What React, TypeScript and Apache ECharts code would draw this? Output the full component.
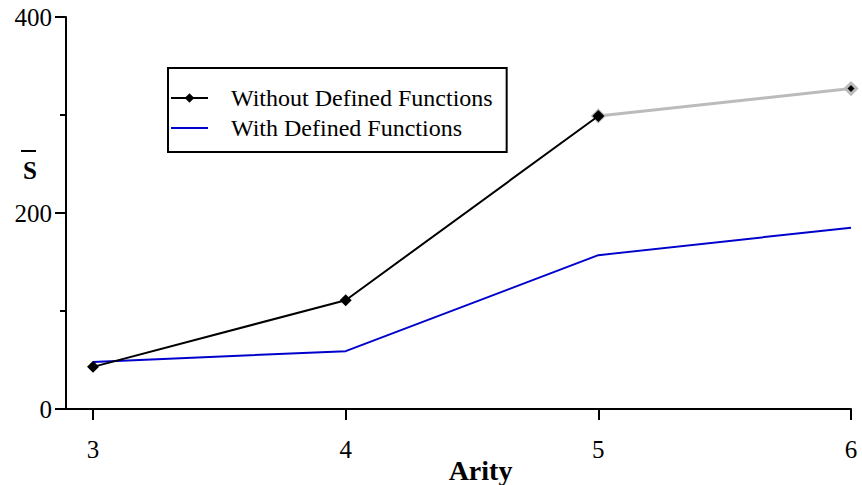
import React, { useEffect, useRef } from "react";
import * as echarts from "echarts";

const arity = [3, 4, 5, 6];
const withoutDefined = [43, 111, 299];
const withoutDefinedTail = [299, 327];
const withDefined = [48, 59, 157, 185];
const xTicks = [3, 4, 5, 6];
const seriesNames = ["Without Defined Functions", "With Defined Functions"];

const FONT = "Liberation Serif";

export default function App() {
  const ref = useRef<HTMLDivElement>(null);
  useEffect(() => {
    if (!ref.current) return;
    const chart = echarts.init(ref.current, null, { renderer: "svg" });
    chart.setOption({
      animation: false,
      grid: { left: 66, right: 11, top: 17, bottom: 76, containLabel: false, outerBoundsMode: "none" },
      legend: {
        left: 168,
        top: 68,
        orient: "vertical",
        data: [
          { name: seriesNames[0] },
          { name: seriesNames[1], itemStyle: { opacity: 0 } },
        ],
        backgroundColor: "#fff",
        borderColor: "#000",
        borderWidth: 2,
        borderRadius: 0,
        padding: [18, 14, 12, 2],
        itemGap: 6,
        itemWidth: 37,
        itemHeight: 12,
        textStyle: { fontFamily: FONT, fontSize: 24, color: "#000", padding: [0, 0, 0, 18] },
      },
      xAxis: {
        type: "value",
        min: 2.893,
        max: 6,
        name: "Arity",
        nameLocation: "middle",
        nameGap: 47,
        nameMoveOverlap: false,
        nameTextStyle: { fontFamily: FONT, fontSize: 28, fontWeight: "bold", color: "#000", padding: [0, 0, 0, 44] },
        axisLine: { lineStyle: { color: "#000", width: 2 } },
        axisTick: { show: true, length: 11, customValues: xTicks, lineStyle: { color: "#000", width: 2 } },
        axisLabel: { customValues: xTicks, fontFamily: FONT, fontSize: 25, color: "#000", margin: 28 },
        splitLine: { show: false },
      },
      yAxis: {
        type: "value",
        min: 0,
        max: 400,
        interval: 200,
        axisLine: { show: true, lineStyle: { color: "#000", width: 2 } },
        axisTick: { show: true, length: 11, lineStyle: { color: "#000", width: 2 } },
        minorTick: { show: true, splitNumber: 2, length: 6, lineStyle: { color: "#000", width: 2 } },
        axisLabel: { fontFamily: FONT, fontSize: 25, color: "#000", margin: 14, padding: [16, 0, 0, 0] },
        splitLine: { show: false },
      },
      graphic: [
        { type: "rect", shape: { x: 21, y: 150, width: 15, height: 2 }, style: { fill: "#000" } },
        {
          type: "text",
          x: 30,
          y: 170,
          style: { text: "S", font: `bold 25px ${FONT}`, fill: "#000", align: "center", verticalAlign: "middle" },
        },
      ],
      series: [
        {
          name: seriesNames[1],
          type: "line",
          data: arity.map((x, i) => [x, withDefined[i]]),
          symbol: "none",
          itemStyle: { color: "#0000cc" },
          lineStyle: { color: "#0000cc", width: 2 },
          z: 2,
        },
        {
          name: "tail",
          type: "line",
          data: [
            [5, withoutDefinedTail[0]],
            [6, withoutDefinedTail[1]],
          ],
          symbol: "diamond",
          symbolSize: 11,
          showAllSymbol: true,
          itemStyle: { color: "#000", borderColor: "#bbb", borderWidth: 3 },
          lineStyle: { color: "#bbb", width: 3 },
          z: 3,
        },
        {
          name: seriesNames[0],
          type: "line",
          data: arity.slice(0, 3).map((x, i) => [x, withoutDefined[i]]),
          symbol: "diamond",
          symbolSize: 12,
          itemStyle: { color: "#000" },
          lineStyle: { color: "#000", width: 2 },
          z: 4,
        },
      ],
    });
    return () => chart.dispose();
  }, []);
  return <div ref={ref} style={{ width: 862, height: 485, position: "absolute", left: 0, top: 0 }} />;
}
